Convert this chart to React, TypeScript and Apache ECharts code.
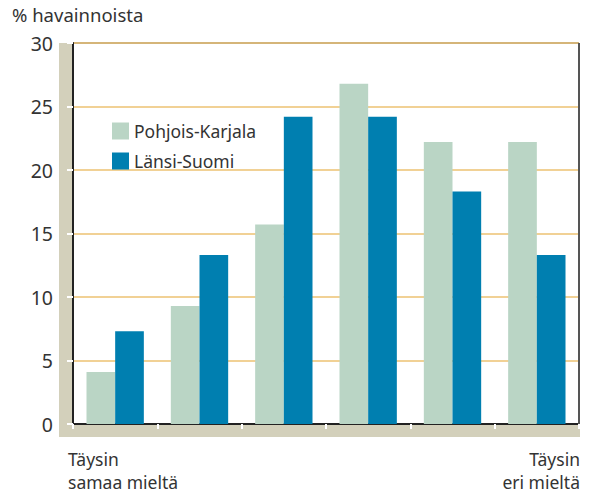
import React, { useEffect, useRef } from "react";
import * as echarts from "echarts";

const categories = ["1", "2", "3", "4", "5", "6"];
const pohjoisKarjala = [4.1, 9.3, 15.7, 26.8, 22.2, 22.2];
const lansiSuomi = [7.3, 13.3, 24.2, 24.2, 18.3, 13.3];
const seriesNames = ["Pohjois-Karjala", "Länsi-Suomi"];
const yTitle = "% havainnoista";
const leftLabel = ["Täysin", "samaa mieltä"];
const rightLabel = ["Täysin", "eri mieltä"];

const FONT = "'Noto Sans', 'Open Sans', sans-serif";
const BAND = "#d3d0bb";

export default function App() {
  const ref = useRef<HTMLDivElement>(null);
  useEffect(() => {
    const chart = echarts.init(ref.current!, null, { renderer: "svg" });
    const labelText = (text: string, top: number, side: "left" | "right") => ({
      type: "text",
      ...(side === "left" ? { left: 68 } : { right: 10 }),
      top,
      style: { text, fontSize: 17.5, lineHeight: 18, fill: "#333", fontFamily: FONT, align: side },
    });
    chart.setOption({
      animation: false,
      backgroundColor: "#ffffff",
      textStyle: { fontFamily: FONT },
      grid: {
        left: 73,
        right: 11,
        top: 43,
        bottom: 69,
        show: true,
        borderColor: "#222",
        borderWidth: 1,
        backgroundColor: "transparent",
      },
      legend: {
        orient: "vertical",
        left: 107,
        top: 117,
        itemWidth: 17,
        itemHeight: 17,
        itemGap: 12,
        icon: "rect",
        textStyle: { fontSize: 17.5, color: "#333", fontFamily: FONT },
        data: seriesNames,
      },
      graphic: [
        { type: "rect", z: -10, silent: true, shape: { x: 59, y: 43, width: 14, height: 394 }, style: { fill: BAND } },
        { type: "rect", z: -10, silent: true, shape: { x: 59, y: 424, width: 521, height: 13 }, style: { fill: BAND } },
        { type: "line", z: 10, silent: true, shape: { x1: 579, y1: 43, x2: 579, y2: 424 }, style: { stroke: "#555", lineWidth: 2 } },
        { type: "text", left: 12, top: 5, style: { text: yTitle, fontSize: 18.5, fill: "#333", fontFamily: FONT } },
        labelText(leftLabel[0], 450, "left"),
        labelText(leftLabel[1], 473, "left"),
        labelText(rightLabel[0], 450, "right"),
        labelText(rightLabel[1], 473, "right"),
      ],
      xAxis: {
        type: "category",
        data: categories,
        axisLine: { lineStyle: { color: "#222", width: 2 } },
        axisTick: { show: true, length: 5, lineStyle: { color: "#fff", width: 2 }, interval: 0 },
        axisLabel: { show: false },
        splitLine: { show: false },
      },
      yAxis: {
        type: "value",
        min: 0,
        max: 30,
        interval: 5,
        axisLine: { show: true, lineStyle: { color: "#222", width: 2 } },
        axisTick: { show: true, length: 6, lineStyle: { color: "#fff", width: 2 } },
        axisLabel: { fontSize: 19.5, color: "#333", margin: 20, fontFamily: FONT },
        splitLine: { show: true, lineStyle: { color: "#ecc272", width: 1.5 } },
      },
      series: [
        {
          name: seriesNames[0],
          type: "bar",
          data: pohjoisKarjala,
          itemStyle: { color: "#bad5c5" },
          barGap: "0%",
          barCategoryGap: "32%",
        },
        {
          name: seriesNames[1],
          type: "bar",
          data: lansiSuomi,
          itemStyle: { color: "#007fb0" },
          barGap: "0%",
          barCategoryGap: "32%",
        },
      ],
    });
    return () => chart.dispose();
  }, []);
  return (
    <div
      ref={ref}
      style={{ position: "fixed", left: 0, top: 0, width: 590, height: 493 }}
    />
  );
}
